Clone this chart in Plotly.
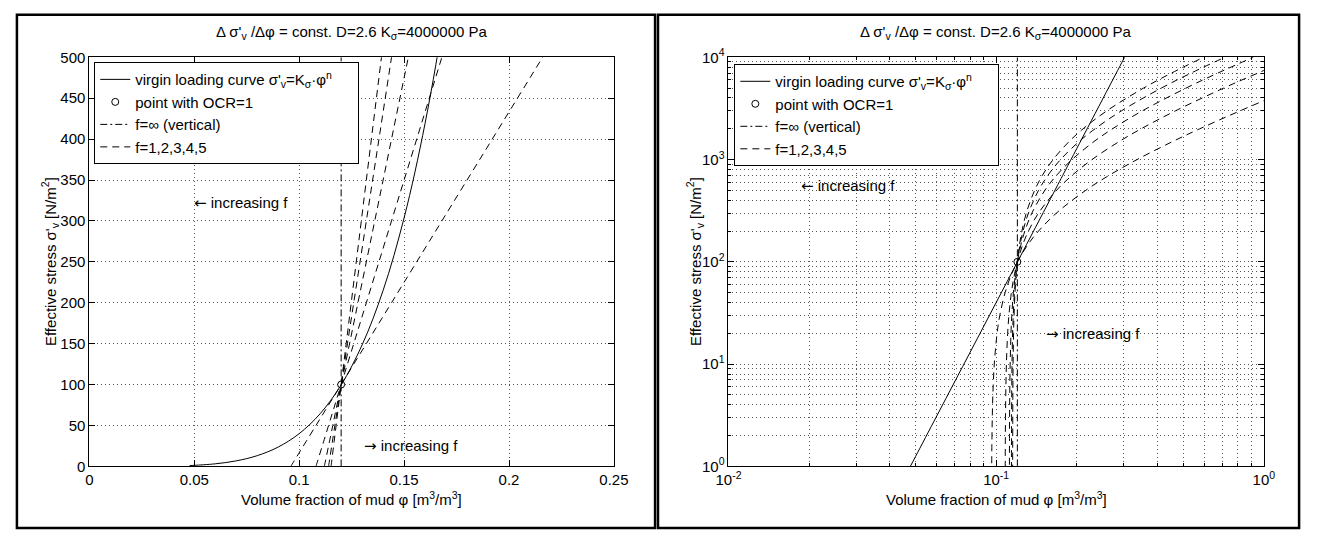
import plotly.graph_objects as go

W, H = 1318, 539
FONT = "Liberation Sans, Arial, Helvetica, sans-serif"

# ---------------- data ----------------
# virgin loading curve  sigma'_v = K_sigma * phi^n  (drawn from sigma=1 to sigma=1e4)
PHI_VIRGIN = [0.0478, 0.05, 0.06, 0.07, 0.08, 0.09, 0.10, 0.11, 0.12, 0.13, 0.14,
              0.15, 0.16, 0.17, 0.18, 0.20, 0.22, 0.25, 0.28, 0.3017]
SIGMA_VIRGIN = [1.0, 1.25, 3.11, 6.72, 13.1, 23.6, 40.0, 64.4, 99.5, 148.5, 215.1,
                303.8, 419.4, 567.9, 755.8, 1280, 2061, 3906, 6884, 10000]

# point with OCR = 1
PHI_OCR = [0.12]
SIGMA_OCR = [100]

# f = infinity (vertical)
PHI_VERTICAL = [0.12, 0.12]
SIGMA_VERTICAL_LIN = [0, 500]
SIGMA_VERTICAL_LOG = [1, 10000]

# f = 1..5 : straight lines through the OCR=1 point
SIGMA_LEVELS = [0, 1, 2, 3, 5, 10, 20, 30, 50, 70, 100, 150, 200, 300, 500, 700,
                1000, 1500, 2000, 3000, 5000, 7000, 10000]
PHI_F1 = [0.0960, 0.09624, 0.09648, 0.09672, 0.0972, 0.0984, 0.1008, 0.1032, 0.108,
          0.1128, 0.12, 0.132, 0.144, 0.168, 0.216, 0.264, 0.336, 0.456, 0.576,
          0.816, 1.296, 1.776, 2.496]
PHI_F2 = [0.108, 0.10812, 0.10824, 0.10836, 0.1086, 0.1092, 0.1104, 0.1116, 0.114,
          0.1164, 0.12, 0.126, 0.132, 0.144, 0.168, 0.192, 0.228, 0.288, 0.348,
          0.468, 0.708, 0.948, 1.308]
PHI_F3 = [0.112, 0.11208, 0.11216, 0.11224, 0.1124, 0.1128, 0.1136, 0.1144, 0.116,
          0.1176, 0.12, 0.124, 0.128, 0.136, 0.152, 0.168, 0.192, 0.232, 0.272,
          0.352, 0.512, 0.672, 0.912]
PHI_F4 = [0.114, 0.11406, 0.11412, 0.11418, 0.1143, 0.1146, 0.1152, 0.1158, 0.117,
          0.1182, 0.12, 0.123, 0.126, 0.132, 0.144, 0.156, 0.174, 0.204, 0.234,
          0.294, 0.414, 0.534, 0.714]
PHI_F5 = [0.1152, 0.115248, 0.115296, 0.115344, 0.11544, 0.11568, 0.11616, 0.11664,
          0.1176, 0.11856, 0.12, 0.1224, 0.1248, 0.1296, 0.1392, 0.1488, 0.1632,
          0.1872, 0.2112, 0.2592, 0.3552, 0.4512, 0.5952]
PHI_F_LINES = [PHI_F1, PHI_F2, PHI_F3, PHI_F4, PHI_F5]

# axis ticks
X_TICKS_LIN = [0, 0.05, 0.1, 0.15, 0.2, 0.25]
X_TICKTEXT_LIN = ["0", "0.05", "0.1", "0.15", "0.2", "0.25"]
X_TICKS_LOG = [0.01, 0.1, 1]
X_TICKTEXT_LOG = ["10<sup>-2</sup>", "10<sup>-1</sup>", "10<sup>0</sup>"]
Y_TICKS_LOG = [1, 10, 100, 1000, 10000]
Y_TICKTEXT_LOG = ["10<sup>0</sup>", "10<sup>1</sup>", "10<sup>2</sup>", "10<sup>3</sup>", "10<sup>4</sup>"]
MINOR_X_LOG = [k * 10.0 ** e for e in (-2, -1) for k in range(2, 10)]
MINOR_Y_LOG = [k * 10.0 ** e for e in (0, 1, 2, 3) for k in range(2, 10)]

ARROW = '<span style="font-family:DejaVu Sans">{}</span>'
TITLE = "\u0394 \u03c3'<sub>v</sub> /\u0394\u03c6 = const. D=2.6 K<sub>\u03c3</sub>=4000000 Pa"
XLABEL = "Volume fraction of mud \u03c6 [m<sup>3</sup>/m<sup>3</sup>]"
YLABEL = "Effective stress \u03c3'<sub>v</sub> [N/m<sup>2</sup>]"
NAME_VIRGIN = ("virgin loading curve \u03c3'<sub>v</sub>=K<sub>\u03c3</sub>\u00b7\u03c6<sup>n</sup>"
               "\u00a0\u00a0\u00a0\u00a0\u00a0")
NAME_OCR = "point with OCR=1"
NAME_VERT = "f=\u221e (vertical)"
NAME_F = "f=1,2,3,4,5"
NOTE_LEFT = ARROW.format("\u2190") + " increasing f"
NOTE_RIGHT = ARROW.format("\u2192") + " increasing f"

# ---------------- layout geometry (pixels) ----------------
L_X0, L_X1 = 78, 614
R_X0, R_X1 = 731, 1278
Y_TOP, Y_BOT = 48, 472


def px(x):
    return x / W


def py(y):
    return 1 - y / H


DASH = "7px,5px"
DASHDOT = "7px,3px,2px,3px"

fig = go.Figure()

for side in ("L", "R"):
    xa = "x" if side == "L" else "x2"
    ya = "y" if side == "L" else "y2"
    lg = "legend" if side == "L" else "legend2"
    fig.add_trace(go.Scatter(x=PHI_VIRGIN, y=SIGMA_VIRGIN, mode="lines", name=NAME_VIRGIN,
                             line=dict(color="black", width=1, shape="spline"),
                             xaxis=xa, yaxis=ya, legend=lg))
    fig.add_trace(go.Scatter(x=PHI_OCR, y=SIGMA_OCR, mode="markers", name=NAME_OCR,
                             marker=dict(symbol="circle-open", size=7, color="black",
                                         line=dict(width=1, color="black")),
                             xaxis=xa, yaxis=ya, legend=lg))
    fig.add_trace(go.Scatter(x=PHI_VERTICAL,
                             y=SIGMA_VERTICAL_LIN if side == "L" else SIGMA_VERTICAL_LOG,
                             mode="lines", name=NAME_VERT,
                             line=dict(color="black", width=1, dash=DASHDOT),
                             xaxis=xa, yaxis=ya, legend=lg))
    for i, phis in enumerate(PHI_F_LINES):
        fig.add_trace(go.Scatter(x=phis, y=SIGMA_LEVELS, mode="lines", name=NAME_F,
                                 showlegend=(i == 0),
                                 line=dict(color="black", width=1, dash=DASH, shape="spline"),
                                 xaxis=xa, yaxis=ya, legend=lg))

GRID = dict(showgrid=True, gridcolor="#555", griddash="1px,3px", gridwidth=1)
AX = dict(showline=True, linecolor="black", linewidth=1, mirror="ticks",
          ticks="inside", ticklen=6, tickcolor="black", tickwidth=1,
          zeroline=False, tickfont=dict(family=FONT, size=15, color="black"))


def minor(vals):
    return dict(tickmode="array", tickvals=vals, ticks="inside", ticklen=3,
                tickcolor="black", showgrid=True, gridcolor="#555",
                griddash="1px,3px", gridwidth=1)


LEGEND = dict(xanchor="left", yanchor="top", bgcolor="white", bordercolor="black",
              borderwidth=1, font=dict(family=FONT, size=15), tracegroupgap=0)

fig.update_layout(
    width=W, height=H, margin=dict(l=0, r=0, t=0, b=0),
    paper_bgcolor="white", plot_bgcolor="white",
    font=dict(family=FONT, size=15, color="black"),
    xaxis=dict(domain=[px(L_X0), px(L_X1)], range=[0, 0.25], tickvals=X_TICKS_LIN,
               ticktext=X_TICKTEXT_LIN, anchor="y", **GRID, **AX),
    yaxis=dict(domain=[py(Y_BOT), py(Y_TOP)], range=[0, 500], dtick=50, tick0=0,
               anchor="x", **GRID, **AX),
    xaxis2=dict(domain=[px(R_X0), px(R_X1)], type="log", range=[-2, 0],
                tickvals=X_TICKS_LOG, ticktext=X_TICKTEXT_LOG, anchor="y2",
                minor=minor(MINOR_X_LOG), **GRID, **AX),
    yaxis2=dict(domain=[py(Y_BOT), py(Y_TOP)], type="log", range=[0, 4],
                tickvals=Y_TICKS_LOG, ticktext=Y_TICKTEXT_LOG, anchor="x2",
                minor=minor(MINOR_Y_LOG), **GRID, **AX),
    legend=dict(x=px(83), y=py(53), **LEGEND),
    legend2=dict(x=px(737), y=py(55), **LEGEND),
    showlegend=True,
)

annotations = []
for cx in ((L_X0 + L_X1) / 2, (R_X0 + R_X1) / 2):
    annotations.append(dict(text=TITLE, x=px(cx), y=py(22), xref="paper", yref="paper",
                            showarrow=False, xanchor="center", yanchor="middle",
                            font=dict(family=FONT, size=15)))
    annotations.append(dict(text=XLABEL, x=px(cx), y=py(505), xref="paper", yref="paper",
                            showarrow=False, xanchor="center", yanchor="middle",
                            font=dict(family=FONT, size=15)))
for lx in (38, 697):
    annotations.append(dict(text=YLABEL, x=px(lx), y=py((Y_TOP + Y_BOT) / 2), xref="paper",
                            yref="paper", showarrow=False, textangle=-90,
                            xanchor="center", yanchor="middle",
                            font=dict(family=FONT, size=15)))
annotations += [
    dict(text=NOTE_LEFT, x=0.049, y=322, xref="x", yref="y", showarrow=False,
         xanchor="left", yanchor="middle", font=dict(family=FONT, size=15)),
    dict(text=NOTE_RIGHT, x=0.130, y=25, xref="x", yref="y", showarrow=False,
         xanchor="left", yanchor="middle", font=dict(family=FONT, size=15)),
    dict(text=NOTE_LEFT, x=-1.737, y=2.74, xref="x2", yref="y2", showarrow=False,
         xanchor="left", yanchor="middle", font=dict(family=FONT, size=15)),
    dict(text=NOTE_RIGHT, x=-0.823, y=1.29, xref="x2", yref="y2", showarrow=False,
         xanchor="left", yanchor="middle", font=dict(family=FONT, size=15)),
]
fig.update_layout(annotations=annotations)

shapes = []
for x0, x1 in ((4, 656), (659, 1314)):
    shapes.append(dict(type="rect", xref="paper", yref="paper", x0=px(x0), x1=px(x1),
                       y0=py(536), y1=py(4), line=dict(color="black", width=2.5)))
fig.update_layout(shapes=shapes)

fig.write_html("out.html")
